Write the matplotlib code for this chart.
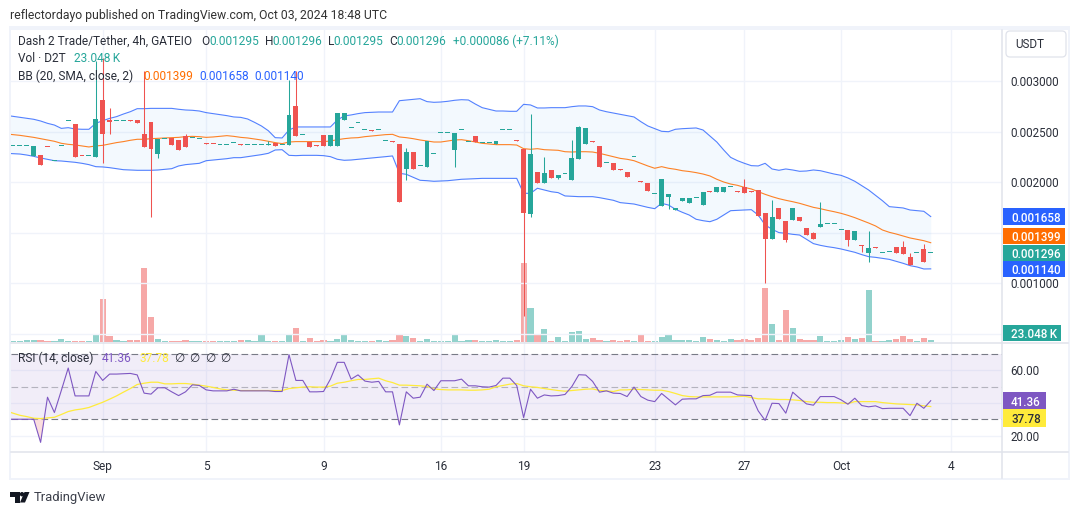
from matplotlib import pyplot as plt
from matplotlib.patches import Rectangle, FancyBboxPatch, Polygon, Circle
import numpy as np

plt.rcParams['font.family'] = ['Roboto', 'DejaVu Sans']

# Candles, prices in millionths of a USDT
opens = [2353,2353,2353,2260,2267,2347,2208,2356,2604,2574,
         2257,2257,2250,2812,2614,2604,2604,2611,2614,2475,
         2594,2280,2423,2433,2419,2455,2439,2423,2383,2380,
         2363,2363,2383,2366,2363,2363,2363,2363,2383,2363,
         2366,2753,2462,2396,2363,2465,2356,2356,2614,2532,
         2581,2512,2512,2512,2403,2403,2376,2129,2297,2155,
         2149,2274,2482,2482,2317,2512,2393,2455,2383,2383,
         2376,2512,2512,2413,2330,1683,2099,1990,2119,2040,
         2076,2020,2228,2376,2403,2356,2185,2188,2126,2099,
         2245,2007,1990,1878,1762,1851,1723,1812,1792,1839,
         1772,1908,1901,1901,1948,1908,1950,1908,1918,1693,
         1436,1743,1614,1624,1653,1545,1495,1554,1584,1584,
         1522,1525,1426,1373,1297,1353,1294,1304,1356,1356,
         1257,1294,1337,1295]
highs = [2353,2353,2353,2353,2267,2347,2208,2356,2604,2574,
         2257,2257,3198,3228,2736,2604,2604,2611,2614,3102,
         2594,2423,2423,2433,2419,2475,2439,2423,2383,2380,
         2363,2363,2383,2376,2363,2363,2363,2406,2383,2363,
         3010,3102,2462,2396,2363,2465,2465,2683,2683,2532,
         2581,2512,2512,2512,2403,2403,2376,2337,2297,2155,
         2406,2274,2482,2482,2485,2512,2393,2455,2383,2383,
         2406,2512,2512,2413,2330,2673,2099,2247,2119,2069,
         2076,2416,2554,2535,2403,2356,2185,2188,2126,2099,
         2245,2007,1990,1878,2030,1881,1743,1842,1842,1839,
         1901,1908,1950,1950,1948,1908,2030,1908,1918,1693,
         1822,1743,1614,1743,1653,1545,1505,1802,1584,1584,
         1522,1525,1515,1373,1515,1353,1294,1304,1356,1416,
         1297,1294,1386,1296]
lows = [2353,2353,2353,2260,2168,2344,2208,2356,2604,2250,
        2254,2257,2250,2191,2475,2604,2604,2608,2587,2350,
        1656,2241,2423,2366,2320,2347,2439,2423,2380,2377,
        2363,2363,2383,2363,2363,2363,2363,2363,2356,2363,
        2366,2455,2462,2347,2360,2356,2356,2356,2614,2532,
        2581,2512,2509,2512,2403,2400,1802,2020,2129,2155,
        2149,2274,2482,2482,2149,2512,2393,2393,2383,2383,
        2376,2512,2512,2410,673,1653,1990,1990,2040,2030,
        2076,2020,2228,2376,2400,2149,2185,2119,2123,2049,
        2245,2004,1911,1878,1762,1733,1723,1812,1792,1839,
        1772,1905,1901,1901,1948,1905,1891,1905,1663,997,
        1436,1634,1406,1624,1614,1475,1436,1554,1584,1584,
        1522,1366,1426,1307,1208,1350,1294,1304,1297,1287,
        1175,1294,1208,1295]
closes = [2353,2353,2353,2353,2168,2344,2208,2356,2604,2250,
          2254,2257,2624,2475,2594,2604,2604,2608,2587,2350,
          2330,2423,2423,2366,2320,2347,2439,2423,2380,2377,
          2363,2363,2383,2363,2363,2363,2363,2363,2356,2363,
          2663,2455,2462,2347,2360,2356,2465,2683,2683,2532,
          2581,2512,2509,2512,2403,2400,1802,2297,2129,2155,
          2406,2274,2482,2482,2485,2512,2393,2393,2383,2383,
          2406,2512,2512,2410,1693,2277,1990,2089,2040,2069,
          2076,2238,2545,2535,2400,2149,2185,2119,2123,2049,
          2245,2004,1911,1878,2030,1881,1743,1842,1842,1839,
          1901,1905,1950,1950,1948,1905,1891,1905,1663,1436,
          1653,1634,1426,1743,1614,1475,1436,1584,1584,1584,
          1522,1426,1515,1370,1346,1350,1294,1304,1297,1287,
          1175,1294,1208,1296]

# Volume in thousands
volumes = [12,12,23,23,23,12,12,35,12,12,
           12,12,81,495,69,23,12,23,23,851,
           288,35,12,12,12,23,12,12,12,12,
           12,12,12,23,23,12,81,12,12,12,
           92,161,12,46,12,23,12,35,92,23,
           12,12,12,23,12,23,81,69,46,12,
           35,12,12,12,92,12,23,23,12,12,
           23,12,12,23,909,391,81,150,12,58,
           12,115,127,35,46,23,12,23,12,23,
           12,92,12,12,58,92,23,23,23,12,
           58,35,23,12,35,23,35,23,46,621,
           207,23,368,161,35,23,23,69,12,12,
           23,58,35,46,598,12,12,23,35,69,
           35,12,46,23.048]

# Bollinger bands, these start one bar left of the first candle
bb_upper = [2660,
            2650,2640,2630,2621,2604,2581,2564,2531,2538,2525,
            2522,2522,2581,2607,2630,2647,2673,2696,2726,2726,
            2729,2729,2729,2729,2720,2713,2710,2703,2687,2677,
            2667,2657,2644,2640,2624,2591,2555,2508,2439,2436,
            2515,2545,2545,2545,2545,2545,2545,2614,2654,2664,
            2677,2687,2690,2693,2693,2693,2805,2812,2819,2825,
            2796,2789,2792,2799,2809,2815,2812,2772,2736,2720,
            2703,2703,2700,2700,2769,2763,2733,2733,2736,2736,
            2736,2746,2753,2753,2746,2713,2696,2683,2670,2657,
            2644,2597,2555,2528,2502,2498,2522,2528,2531,2535,
            2515,2455,2396,2317,2244,2211,2185,2162,2159,2185,
            2129,2116,2129,2119,2106,2109,2119,2112,2096,2079,
            2066,2040,2007,1964,1921,1868,1815,1756,1749,1743,
            1723,1716,1710,1658]
bb_basis = [2476,
            2469,2462,2452,2442,2429,2416,2403,2383,2373,2367,
            2357,2347,2357,2363,2376,2390,2400,2413,2423,2423,
            2429,2433,2436,2439,2442,2449,2452,2449,2442,2446,
            2452,2459,2452,2442,2436,2426,2416,2403,2390,2380,
            2396,2400,2400,2400,2400,2400,2406,2419,2429,2436,
            2439,2449,2456,2462,2469,2472,2446,2439,2429,2416,
            2406,2396,2396,2406,2416,2419,2409,2396,2383,2376,
            2370,2370,2370,2366,2330,2324,2330,2320,2317,2314,
            2300,2297,2300,2300,2297,2284,2267,2251,2234,2225,
            2211,2185,2159,2136,2152,2136,2126,2112,2104,2093,
            2079,2060,2027,2000,1980,1967,1947,1931,1905,1878,
            1855,1835,1819,1805,1789,1769,1749,1736,1720,1706,
            1690,1670,1647,1621,1594,1565,1525,1502,1485,1466,
            1446,1433,1419,1399]
bb_lower = [2284,
            2281,2277,2267,2254,2238,2225,2211,2208,2202,2195,
            2185,2172,2152,2149,2142,2132,2122,2119,2116,2116,
            2116,2119,2126,2132,2159,2172,2178,2185,2211,2218,
            2225,2231,2241,2241,2251,2261,2271,2284,2317,2320,
            2264,2261,2264,2264,2264,2261,2251,2225,2215,2218,
            2225,2231,2238,2244,2251,2258,2086,2076,2046,2017,
            2013,2007,2010,2013,2020,2027,2030,2033,2036,2036,
            2036,2036,2036,2036,1888,1888,1938,1921,1904,1895,
            1862,1858,1855,1855,1855,1845,1832,1819,1796,1789,
            1782,1766,1749,1736,1789,1772,1730,1700,1673,1631,
            1617,1607,1631,1673,1716,1720,1723,1726,1673,1575,
            1532,1499,1492,1482,1475,1433,1390,1373,1360,1350,
            1337,1320,1304,1281,1261,1254,1244,1234,1215,1195,
            1172,1159,1139,1140]

rsi = [30,
       30,30,30,30,15.8,43.5,34.1,47.6,61.4,44.3,
       44.3,44.3,59.3,53.8,57.7,57.7,57.9,58.1,57.2,46,
       45.4,49.3,49.3,46.8,44.5,46.8,51.1,50.7,48,47.4,
       47.4,47.4,48.4,47.4,47.4,47.4,47.4,47.4,47,47,
       69.6,53.8,53.8,46.8,46.8,47,54.6,64.9,64.9,54.6,
       57.2,53.4,52.7,53.2,46.8,46.8,26.5,46.8,42.9,43.5,
       51.5,47.6,53.6,53.6,53.6,54.6,50.5,50.5,49.9,49.7,
       50.7,55.2,55.2,50.7,31,48.4,42.9,44.9,44.3,44.5,
       45.2,50.1,57.3,57.1,53.2,46.6,47.4,46,45.8,43.9,
       49.7,43.9,41.7,40.8,45.8,42.3,38.8,42.3,42.5,42.5,
       44.5,44.7,46.6,46.6,46.6,44.9,44.7,44.5,35.1,29.3,
       39.8,39.6,33.7,46.6,42.9,39.4,38.6,43.9,43.9,43.9,
       41.9,39.2,42.9,38.4,37.6,38.2,36.5,36.7,36.7,36.7,
       32.2,39.8,36.7,41.36]
rsi_ma = [35.1,
          33.7,32.4,31.6,30.6,30.4,30.8,31.2,32.9,34.7,35.7,
          36.3,37.2,38.8,40.4,42.3,44.3,46.6,48.8,51.3,52.1,
          52.7,52.7,51.7,51.7,51.9,51.9,51.5,50.9,50.3,49.5,
          48.6,48,47.8,47.6,47.6,47.6,47.6,47.6,47.6,47.6,
          48.8,49.3,49.7,49.9,49.7,49.7,50.3,52.1,52.7,53.6,
          54.4,54.4,54.8,55.2,53.6,52.5,50.9,50.9,50.7,50.5,
          50.1,48.6,48.2,48,48,48,47.8,47.8,48,48.4,
          49.9,50.7,51.5,51.9,50.5,49.9,49.5,48.8,48.2,47.6,
          47.2,47.6,48,48.4,48.6,47.6,47.4,47,48,48,
          48.4,48.2,48,47.8,47.8,47,45.8,44.5,43.9,43.7,
          43.7,43.7,43.7,43.7,43.7,43.9,44.1,43.3,42.5,42.5,
          42.3,42.1,42.1,41.9,41.5,40.8,40.4,40.4,40.2,40.2,
          40,39.6,40.8,40.8,40.8,40.8,40.2,39.8,39.4,39.2,
          39,38.8,38.2,37.78]

# Bar number of each date label
date_bars = [13, 28, 45, 62, 74, 93, 106, 120, 136]
date_labels = ['Sep', '5', '9', '16', '19', '23', '27', 'Oct', '4']

price_ticks = [0.0005, 0.0010, 0.0015, 0.0020, 0.0025, 0.0030]
price_tick_labels = ['', '0.001000', '', '0.002000', '0.002500', '0.003000']
rsi_ticks = [20, 40, 60]
rsi_tick_labels = ['20.00', '', '60.00']

UP = '#26a69a'
DOWN = '#ef5350'
BLUE = '#2962ff'
ORANGE = '#ff6d00'
PURPLE = '#7e57c2'
YELLOW = '#ffeb3b'
GRID = '#f0f3fa'
LINE = '#e0e3eb'
TEXT = '#2a2e39'

W, H = 1080, 515
PRICE_TOP, PRICE_BOTTOM = 30, 342.7
RSI_BOTTOM = 452.3
LEFT, RIGHT = 11, 1002


def pane(top, bottom):
    return [LEFT / W, 1 - bottom / H, (RIGHT - LEFT) / W, (bottom - top) / H]


def tag(axis, y, label, fc, tc, width_px, height):
    # value tag on the scale, y and height in the units of that pane
    tr = axis.get_yaxis_transform()
    axis.add_patch(Rectangle((1.0013, y - height / 2), width_px / (RIGHT - LEFT), height, transform=tr,
                             fc=fc, ec='none', zorder=9, clip_on=False))
    axis.text(1.0091, y, label, transform=tr, fontsize=8.4, color=tc, fontweight='medium',
              va='center_baseline', ha='left', zorder=10, clip_on=False)


o = np.array(opens) / 1e6
h = np.array(highs) / 1e6
l = np.array(lows) / 1e6
c = np.array(closes) / 1e6
vol = np.array(volumes)
bars = np.arange(len(o))
line_bars = np.arange(-1, len(o))
colors = np.where(c < o, DOWN, UP)

fig = plt.figure(figsize=(W / 100, H / 100), dpi=100, facecolor='white')

# Volume sits under the candles
ax_vol = fig.add_axes(pane(PRICE_TOP, PRICE_BOTTOM), zorder=1)
ax_vol.bar(bars, vol, width=0.9, color=colors, alpha=0.5, linewidth=0)
ax_vol.set_ylim(-9, 3587)
ax_vol.set_xlim(-0.29, 143.33)
ax_vol.axis('off')

# Price pane
ax = fig.add_axes(pane(PRICE_TOP, PRICE_BOTTOM), zorder=2)
ax.patch.set_visible(False)
ax.set_xlim(-0.29, 143.33)
ax.set_ylim(0.000409, 0.003505)
ax.set_axisbelow(True)
ax.grid(True, color=GRID, lw=1)
ax.set_xticks(date_bars)
ax.set_xticklabels([])
ax.set_yticks(price_ticks)
ax.set_yticklabels(price_tick_labels, fontsize=8.4, color=TEXT)
ax.yaxis.tick_right()
ax.tick_params(length=0)
ax.tick_params(axis='y', pad=6)
for s in ax.spines.values():
    s.set_visible(False)

upper = np.array(bb_upper) / 1e6
basis = np.array(bb_basis) / 1e6
lower = np.array(bb_lower) / 1e6
ax.fill_between(line_bars, lower, upper, color='#2196f3', alpha=0.05, lw=0)
ax.plot(line_bars, upper, color=BLUE, lw=0.8, alpha=0.8)
ax.plot(line_bars, lower, color=BLUE, lw=0.8, alpha=0.8)
ax.plot(line_bars, basis, color=ORANGE, lw=0.8, alpha=0.85)

ax.vlines(bars, l, h, colors=colors, lw=0.75, zorder=3)
body_low = np.minimum(o, c)
body_height = np.maximum(np.abs(c - o), 10e-6)
ax.bar(bars, body_height, bottom=body_low, width=0.72, color=colors, linewidth=0, zorder=4)

# Last value tags on the price scale
tag_prices = [0.001658, 0.001464, 0.001296, 0.001140]
tag_labels = ['0.001658', '0.001399', '0.001296', '0.001140']
tag_colors = [BLUE, ORANGE, UP, BLUE]
for p, t, col in zip(tag_prices, tag_labels, tag_colors):
    tag(ax, p, t, col, 'white', 62, 0.000165)
tag(ax_vol, 100, '23.048\u2009K', UP, 'white', 58, 184)

# RSI pane
ax_rsi = fig.add_axes(pane(PRICE_BOTTOM, RSI_BOTTOM), zorder=2)
ax_rsi.patch.set_visible(False)
ax_rsi.set_xlim(-0.29, 143.33)
ax_rsi.set_ylim(9.7, 76.95)
ax_rsi.set_axisbelow(True)
ax_rsi.grid(True, color=GRID, lw=1)
ax_rsi.set_xticks(date_bars)
ax_rsi.set_xticklabels(date_labels, fontsize=8.6, color=TEXT)
ax_rsi.set_yticks(rsi_ticks)
ax_rsi.set_yticklabels(rsi_tick_labels, fontsize=8.4, color=TEXT)
ax_rsi.yaxis.tick_right()
ax_rsi.tick_params(length=0)
ax_rsi.tick_params(axis='y', pad=6)
ax_rsi.tick_params(axis='x', pad=5.3)
for s in ax_rsi.spines.values():
    s.set_visible(False)

rsi_line = np.array(rsi)
ax_rsi.axhspan(30, 70, color=PURPLE, alpha=0.1, lw=0, zorder=1)
ax_rsi.axhline(70, color='#787b86', lw=0.8, ls=(0, (6, 3)), zorder=2)
ax_rsi.axhline(50, color='#787b86', lw=0.8, ls=(0, (6, 3)), alpha=0.5, zorder=2)
ax_rsi.axhline(30, color='#787b86', lw=0.8, ls=(0, (6, 3)), zorder=2)
ax_rsi.fill_between(line_bars, rsi_line, 30, where=rsi_line <= 30, color='#f9c9c8', alpha=0.6, lw=0,
                    interpolate=True, zorder=2)
ax_rsi.plot(line_bars, rsi_ma, color=YELLOW, lw=0.9, zorder=3)
ax_rsi.plot(line_bars, rsi_line, color=PURPLE, lw=0.8, zorder=4)

tag(ax_rsi, 41.36, '41.36', PURPLE, 'white', 43, 10.6)
tag(ax_rsi, 30.75, '37.78', YELLOW, TEXT, 43, 10.6)

# Frame, header and legends, in pixels of the picture
top = fig.add_axes([0, 0, 1, 1], zorder=5)
top.set_xlim(0, W)
top.set_ylim(H, 0)
top.axis('off')
top.patch.set_visible(False)

for x, y, w_, h_ in [(9, 26, 1061, 4), (9, 478, 1061, 2), (9, 26, 2, 454), (1068, 26, 2, 454)]:
    top.add_patch(Rectangle((x, y), w_, h_, fc=GRID, ec='none'))
top.plot([11, 1068], [PRICE_BOTTOM, PRICE_BOTTOM], color=LINE, lw=1.1)
top.plot([11, 1068], [RSI_BOTTOM, RSI_BOTTOM], color=LINE, lw=1.1)
top.plot([RIGHT + 0.3, RIGHT + 0.3], [30, 478], color=LINE, lw=1.1)

top.add_patch(FancyBboxPatch((1006, 31), 60, 26, boxstyle='round,pad=0,rounding_size=4',
                             fc='white', ec=LINE, lw=0.9))
top.text(1015, 44.5, 'USDT', fontsize=8.4, color=TEXT, va='center')

top.text(10, 15, 'reflectordayo published on TradingView.com, Oct 03, 2024 18:48 UTC',
         fontsize=8.8, color='#333333', va='center')


def legend(x, y, s, col=TEXT):
    top.text(x, y, s, fontsize=8.6, color=col, va='center', ha='left')


legend(18, 41.5, 'Dash 2 Trade/Tether, 4h, GATEIO')
legend(201, 41.5, 'O')
legend(209, 41.5, '0.001295', UP)
legend(264.7, 41.5, 'H')
legend(272.5, 41.5, '0.001296', UP)
legend(328, 41.5, 'L')
legend(333.5, 41.5, '0.001295', UP)
legend(389.5, 41.5, 'C')
legend(396.7, 41.5, '0.001296', UP)
legend(452.7, 41.5, '+0.000086 (+7.11%)', UP)
legend(18, 59, 'Vol \u00b7 D2T')
legend(74, 59, '23.048\u2009K', UP)
legend(18, 76, 'BB (20, SMA, close, 2)')
legend(143, 76, '0.001399', ORANGE)
legend(199, 76, '0.001658', BLUE)
legend(254.5, 76, '0.001140', BLUE)
legend(18, 358, 'RSI (14, close)')
legend(102, 358, '41.36', PURPLE)
legend(139, 358, '37.78', YELLOW)
for x in [174, 189.5, 205, 220]:
    legend(x, 358, '\u2205')

# TradingView logo and name
top.add_patch(Polygon([(10, 492), (19.5, 492), (19.5, 502.5), (14.5, 502.5), (14.5, 496.5), (10, 496.5)],
                      fc='#131722', ec='none'))
top.add_patch(Circle((22, 494.2), 2.2, fc='#131722', ec='none'))
top.add_patch(Polygon([(24.5, 492), (29.5, 492), (25, 502.5), (20, 502.5)], fc='#131722', ec='none'))
top.text(33.5, 497.5, 'TradingView', fontsize=9.4, color='#3b3f4a', va='center')

fig.savefig('out.png', dpi=100)
